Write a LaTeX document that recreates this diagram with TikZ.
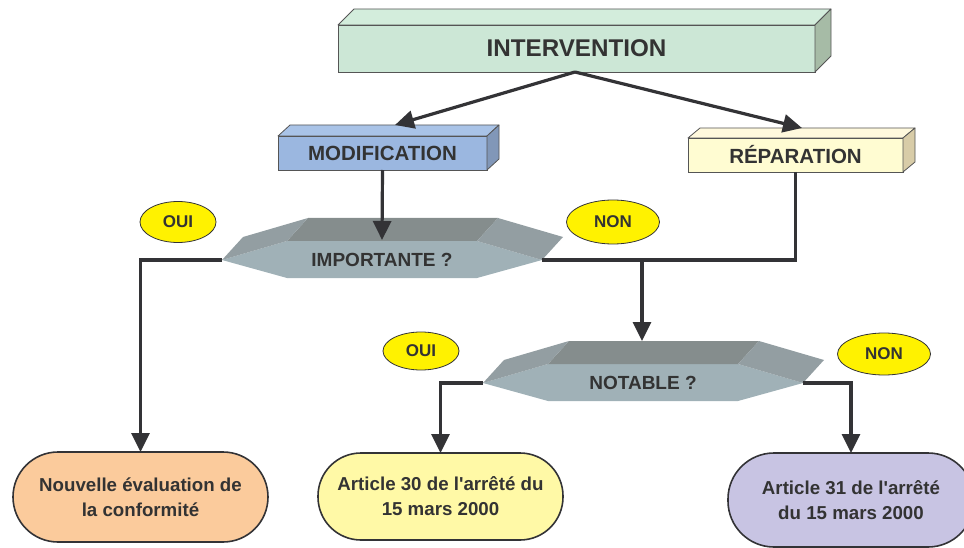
\documentclass[tikz,border=0pt]{standalone}
\usepackage{fontspec}
\setmainfont{Liberation Sans}
\usetikzlibrary{arrows.meta,calc,shapes.geometric}
\definecolor{txt}{HTML}{333333}
\definecolor{lc}{HTML}{333336}
\definecolor{boxline}{HTML}{555555}
\definecolor{intfront}{HTML}{CCE7D6}
\definecolor{inttop}{HTML}{D3EDDC}
\definecolor{intside}{HTML}{A6BBA6}
\definecolor{modfront}{HTML}{9BB7E0}
\definecolor{modtop}{HTML}{A9C3E7}
\definecolor{modside}{HTML}{8197B8}
\definecolor{repfront}{HTML}{FFFCD2}
\definecolor{reptop}{HTML}{FFF9DD}
\definecolor{repside}{HTML}{D8CCA8}
\definecolor{hexf}{HTML}{A0B1B7}
\definecolor{hext}{HTML}{858D8D}
\definecolor{hexs}{HTML}{939EA2}
\definecolor{ovalc}{HTML}{FFF200}
\definecolor{peach}{HTML}{FBCB9C}
\definecolor{lyellow}{HTML}{FFF9A6}
\definecolor{lavender}{HTML}{C8C4E3}
\newcommand\boxthreed[5]{%
  \filldraw[fill=#4, draw=boxline, line width=.8pt, line join=round] (#1.north west) -- ($(#1.north west)+(#2,#3)$) -- ($(#1.north east)+(#2,#3)$) -- (#1.north east) -- cycle;
  \filldraw[fill=#5, draw=boxline, line width=.8pt, line join=round] (#1.north east) -- ($(#1.north east)+(#2,#3)$) -- ($(#1.south east)+(#2,#3)$) -- (#1.south east) -- cycle;}
\newcommand\hexprism[4]{%
  \begin{scope}[shift={(#2,#3)}]
    \fill[hexf] (-160,0) -- (-95,-19) -- (95,-19) -- (160,0) -- (95,18) -- (-95,18) -- cycle;
    \fill[hext] (-95,-19) -- (95,-19) -- (116,-42) -- (-74,-42) -- cycle;
    \fill[hexs] (-160,0) -- (-95,-19) -- (-74,-42) -- (-139,-23) -- cycle;
    \fill[hexs] (95,-19) -- (160,0) -- (181,-23) -- (116,-42) -- cycle;
    \node[hextext] (#1) at (0,0) {#4};
    \coordinate (#1L) at (-160,0);
    \coordinate (#1R) at (160,0);
    \coordinate (#1T) at (0,-20);
    \coordinate (#1B) at (-1,-42);
  \end{scope}}
\begin{document}
\begin{tikzpicture}[x=1pt,y=-1pt,
  box/.style={draw=boxline, line width=.8pt, inner sep=0pt, outer sep=0pt, text=txt,
    font=\fontsize{20.5}{24}\selectfont\bfseries},
  hextext/.style={inner sep=0pt, text=txt, font=\fontsize{19}{22}\selectfont\bfseries},
  oval/.style={ellipse, draw=lc, line width=.8pt, fill=ovalc, inner sep=0pt, text=txt,
    font=\fontsize{17}{20}\selectfont\bfseries},
  term/.style={draw=lc, line width=1.6pt, align=center, inner sep=0pt, outer sep=0pt, text=txt,
    font=\fontsize{18.7}{25}\selectfont\bfseries},
  conn/.style={draw=lc, line width=3.2pt},
  arr/.style={conn, -{Triangle[length=19pt,width=18pt]}}]
\useasboundingbox (0,0) rectangle (964,548);
% 3D boxes
\node[box, fill=intfront, minimum width=477pt, minimum height=47pt, font=\fontsize{24.2}{28}\selectfont\bfseries] (interv) at (576.5,48.5) {INTERVENTION};
\boxthreed{interv}{16}{-16}{inttop}{intside}
\node[box, fill=modfront, minimum width=209pt, minimum height=34pt] (modif) at (382.5,153) {MODIFICATION};
\boxthreed{modif}{12}{-11}{modtop}{modside}
\node[box, fill=repfront, minimum width=215pt, minimum height=34pt] (repar) at (795.5,155) {RÉPARATION};
\boxthreed{repar}{12}{-10}{reptop}{repside}
% decisions
\hexprism{imp}{382}{260}{IMPORTANTE ?}
\hexprism{not}{643}{383}{NOTABLE ?}
% yes/no labels
\node[oval, minimum width=76pt, minimum height=41pt] (oui1) at (178,222) {OUI};
\node[oval, minimum width=93pt, minimum height=44pt] (non1) at (613,222) {NON};
\node[oval, minimum width=76pt, minimum height=38pt] (oui2) at (421,351) {OUI};
\node[oval, minimum width=93pt, minimum height=42pt] (non2) at (884,354) {NON};
% terminals
\node[term, fill=peach, minimum width=255pt, minimum height=90pt, rounded corners=45pt] (n1) at (140.5,497) {Nouvelle évaluation de\\la conformité};
\node[term, fill=lyellow, minimum width=245pt, minimum height=87pt, rounded corners=43pt] (n2) at (440.5,496.5) {Article 30 de l\textquotesingle arrêté du\\15 mars 2000};
\node[term, fill=lavender, minimum width=246pt, minimum height=94pt, rounded corners=46pt] (n3) at (851,500) {Article 31 de l\textquotesingle arrêté\\du 15 mars 2000};
% connectors
\coordinate (modtopc) at (395,125);
\coordinate (reptopc) at (802,128);
\draw[arr] ([xshift=-1.5pt]interv.south) -- (modtopc);
\draw[arr] ([xshift=-1.5pt]interv.south) -- (reptopc);
\draw[arr] (modif.south) -- (impT);
\draw[conn] (repar.south) |- (impR);
\draw[arr] (impR -| notB) -- (notB);
\draw[arr] (impL) -| (n1.north);
\draw[arr] (notL) -| (n2.north);
\draw[arr] (notR) -| (n3.north);
\end{tikzpicture}
\end{document}
